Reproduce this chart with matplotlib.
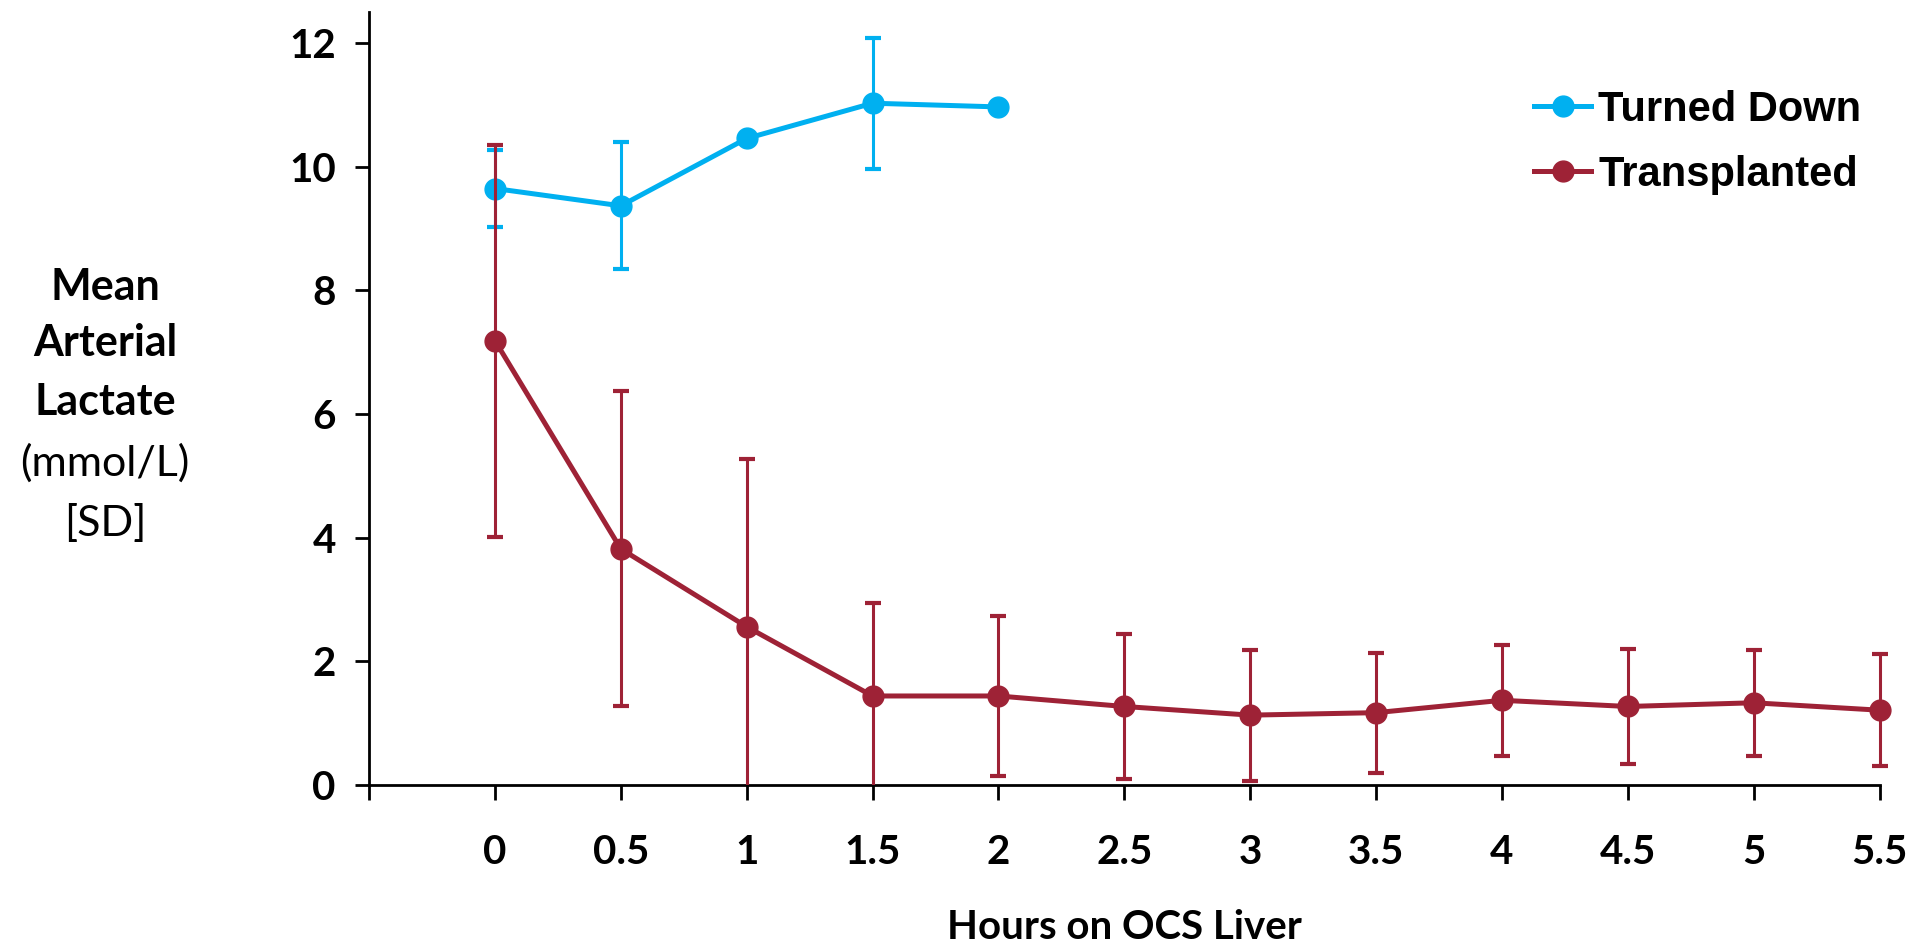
import numpy as np
import matplotlib
matplotlib.use('Agg')
import matplotlib.pyplot as plt
from matplotlib.lines import Line2D
from matplotlib.patches import Rectangle
from matplotlib.font_manager import FontProperties

## data
hours = [0, 0.5, 1, 1.5, 2, 2.5, 3, 3.5, 4, 4.5, 5, 5.5]
hour_labels = ['', '0', '0.5', '1', '1.5', '2', '2.5', '3', '3.5', '4', '4.5', '5', '5.5']

# turned down livers (only first 5 time points)
down_hours = [0, 0.5, 1, 1.5, 2]
down_mean = [9.65, 9.37, 10.46, 11.03, 10.97]
down_sd = [0.63, 1.03, 0.0, 1.06, 0.0]

# transplanted livers
tx_mean = [7.19, 3.82, 2.56, 1.44, 1.44, 1.27, 1.13, 1.17, 1.37, 1.27, 1.33, 1.21]
tx_sd = [3.17, 2.55, 2.72, 1.51, 1.30, 1.17, 1.06, 0.97, 0.90, 0.93, 0.86, 0.91]

blue = '#00B0F0'
red = '#9E2236'

tick_font = {'family': 'Lato', 'weight': 'bold', 'size': 29}

fig = plt.figure(figsize=(19.16, 9.5), dpi=100)
ax = fig.add_axes([0.1926, 0.1737, 0.981 - 0.1926, 0.987 - 0.1737])

# clip region: cut at y=0 but let the last point spill past the right edge
clip = Rectangle((-0.05, 0), 1.1, 1.1, transform=ax.transAxes, fill=False, visible=False)
ax.add_patch(clip)

## series
for xs, ys, es, c, z in [(down_hours, down_mean, down_sd, blue, 3),
                         (hours, tx_mean, tx_sd, red, 4)]:
    line, caps, bars = ax.errorbar(xs, ys, yerr=es, color=c, lw=3.6, marker='o', ms=15,
                                   elinewidth=2.2, capsize=6, capthick=3, zorder=z)
    line.set_clip_on(False)
    for art in list(caps) + list(bars):
        art.set_clip_path(clip)

## axes
ax.set_xlim(-0.5, 5.5)
ax.set_ylim(0, 12.5)
ax.set_xticks(np.arange(-0.5, 5.51, 0.5))
ax.set_xticklabels(hour_labels)
ax.set_yticks(np.arange(0, 12.1, 2))
ax.set_yticklabels([str(v) for v in range(0, 13, 2)])
for lab in ax.get_xticklabels() + ax.get_yticklabels():
    lab.set_fontproperties(FontProperties(**tick_font))

for s in ['top', 'right']:
    ax.spines[s].set_visible(False)
for s in ['left', 'bottom']:
    ax.spines[s].set_linewidth(2.0)
ax.tick_params(axis='x', direction='out', length=11, width=2.0, pad=24)
ax.tick_params(axis='y', direction='out', length=10, width=2.0, pad=14)

ax.set_xlabel('Hours on OCS Liver', fontfamily='Lato', fontweight='bold', fontsize=29, labelpad=28)

## y label, stacked lines left of the axis
ylab = [('Mean', 'bold', 287), ('Arterial', 'bold', 343), ('Lactate', 'bold', 402),
        ('(mmol/L)', 'normal', 463), ('[SD]', 'normal', 523)]
for txt, wt, ypx in ylab:
    fig.text(105 / 1916, 1 - ypx / 950, txt, ha='center', va='center',
             fontfamily='Lato', fontweight=wt, fontsize=31)

## legend (line + marker only, no error bars)
handles = [Line2D([], [], color=blue, lw=3.6, marker='o', ms=15),
           Line2D([], [], color=red, lw=3.6, marker='o', ms=15)]
ax.legend(handles, ['Turned Down', 'Transplanted'], loc='upper left',
          bbox_to_anchor=(1534 / 1916, 1 - 90 / 950),
          bbox_transform=fig.transFigure, frameon=False, borderpad=0, borderaxespad=0,
          handlelength=1.37, handletextpad=0.17, labelspacing=0.6,
          prop={'family': 'Liberation Sans', 'weight': 'bold', 'size': 30})

fig.savefig('out.png', dpi=100)
